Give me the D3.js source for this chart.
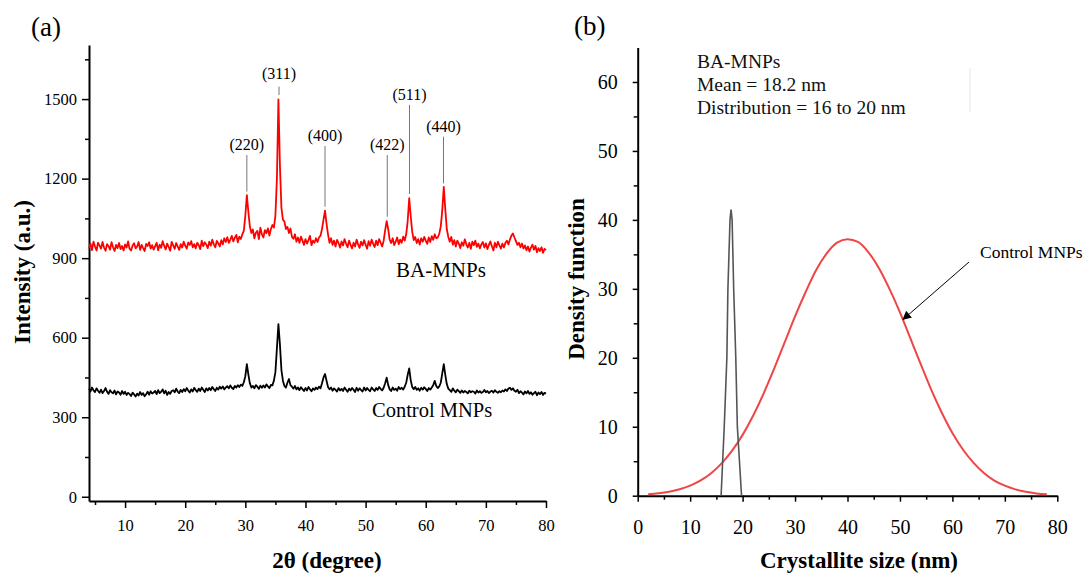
<!DOCTYPE html>
<html>
<head>
<meta charset="utf-8">
<script src="https://cdn.jsdelivr.net/npm/d3@7"></script>
<style>
  body { margin: 0; background: #fff; }
  svg text { font-family: "Liberation Serif", "Times New Roman", serif; }
</style>
</head>
<body>
<svg id="chart" width="1083" height="574"></svg>
<script>
//------ Données (a) : diffractogrammes XRD ------
var twoThetaStart = 4, twoThetaStep = 0.25;

// BA-MNPs, intensité tous les 0.25° de 4 à 80
var baMnps = [
  938, 955, 930, 962, 944, 929, 958, 947,
  936, 961, 940, 928, 953, 945, 932, 960,
  941, 927, 950, 938, 957, 934, 946, 929,
  952, 940, 963, 935, 929, 948, 956, 937,
  944, 961, 931, 950, 938, 927, 954, 946,
  960, 936, 949, 932, 945, 958, 930, 951,
  939, 964, 947, 933, 955, 942, 928, 961,
  948, 935, 957, 944, 931, 953, 940, 962,
  947, 936, 959, 950, 964, 941, 953, 937,
  958, 949, 934, 966, 945, 960, 951, 938,
  962, 947, 970, 952, 941, 965, 956, 944,
  968, 952, 975, 961, 979, 958, 970, 984,
  963, 977, 988, 960, 981, 972, 990, 1004,
  1060, 1138, 1075, 1020, 995, 1008, 975, 996,
  1003, 972, 1015, 990, 978, 1006, 994, 1012,
  985, 1010, 1025, 1015, 1060, 1200, 1499, 1250,
  1090, 1045, 1038, 1010, 1018, 995, 1012, 980,
  973, 990, 962, 978, 958, 981, 966, 950,
  972, 955, 968, 984, 949, 966, 958, 975,
  961, 978, 985, 1010, 1045, 1079, 1030, 990,
  958, 975, 950, 966, 944, 969, 957, 940,
  963, 948, 972, 955, 941, 966, 950, 937,
  958, 944, 970, 952, 939, 962, 948, 968,
  951, 936, 964, 947, 970, 955, 942, 966,
  949, 972, 958, 944, 966, 1005, 1040, 1010,
  970, 957, 975, 949, 962, 978, 953, 970,
  958, 981, 966, 990, 1040, 1126, 1060, 1000,
  968, 980, 957, 972, 951, 975, 962, 980,
  966, 954, 978, 961, 983, 969, 990, 975,
  978, 992, 1020, 1080, 1169, 1085, 1010, 980,
  962, 980, 951, 968, 944, 966, 955, 938,
  960, 947, 971, 952, 940, 958, 935, 962,
  949, 966, 943, 955, 937, 952, 961, 940,
  956, 934, 950, 963, 945, 929, 958, 941,
  962, 948, 936, 955, 940, 958, 966, 952,
  970, 985, 993, 978, 964, 950, 958, 941,
  955, 936, 948, 930, 944, 925, 940, 951,
  932, 946, 922, 938, 927, 941, 920, 935,
  930
];

// Control MNPs, même grille
var controlMnps = [
  408, 397, 412, 401, 395, 409, 400, 392,
  404, 391, 399, 410, 396, 388, 402, 394,
  390, 401, 386, 397, 393, 385, 399, 388,
  396, 384, 392, 387, 380, 393, 386, 378,
  389, 382, 395, 384, 391, 379, 387, 396,
  385, 398, 389, 393, 399, 387, 402, 391,
  396, 405, 390, 400, 384, 395, 388, 399,
  402, 394, 408, 397, 391, 403, 395, 406,
  398, 410, 401, 393, 405, 397, 411, 402,
  396, 408, 399, 412, 404, 395, 409, 401,
  410, 402, 414, 406, 399, 411, 404, 415,
  408, 416, 405, 412, 417, 409, 420, 411,
  406, 418, 412, 421, 414, 423, 418, 432,
  455, 500, 462, 428, 412, 418, 409, 421,
  415, 407, 419, 411, 420, 412, 424, 416,
  410, 422, 420, 438, 470, 560, 651, 575,
  478, 438, 418, 412, 430, 444, 421, 415,
  408, 418, 405, 412, 402, 413, 406, 399,
  410, 401, 414, 405, 398, 409, 403, 412,
  406, 415, 409, 428, 450, 463, 438, 414,
  405, 412, 400, 409, 403, 397, 410, 401,
  407, 399, 412, 404, 396, 408, 401, 410,
  404, 395, 411, 400, 409, 402, 397, 412,
  401, 410, 403, 398, 412, 405, 399, 410,
  403, 414, 407, 401, 411, 428, 449, 422,
  405, 399, 412, 403, 408, 400, 414, 406,
  411, 404, 415, 430, 460, 484, 440, 414,
  406, 414, 403, 409, 400, 411, 404, 413,
  407, 399, 410, 404, 412, 421, 437, 418,
  410, 416, 430, 465, 500, 460, 425, 408,
  402, 396, 409, 400, 394, 404, 398, 392,
  401, 393, 399, 395, 390, 400, 394, 398,
  396, 389, 401, 393, 398, 392, 395, 403,
  394, 399, 391, 397, 400, 393, 402, 396,
  392, 398, 394, 401, 397, 405, 399, 408,
  411, 403, 409, 400, 396, 404, 391, 398,
  393, 386, 397, 390, 399, 388, 394, 385,
  391, 396, 383, 393, 387, 395, 384, 392,
  389
];

// indexation des pics
var peakLabels = ["(220)", "(311)", "(400)", "(422)", "(511)", "(440)"];
var peakAngles = [30.25, 35.6, 43.25, 53.6, 57.3, 62.95];
var leaderTop = [1289, 1547, 1323, 1289, 1478, 1358];
var leaderBottom = [1151, 1515, 1094, 1056, 1142, 1182];

var xrdXTicks = [10, 20, 30, 40, 50, 60, 70, 80];
var xrdXMinor = [5, 15, 25, 35, 45, 55, 65, 75];
var xrdYTicks = [0, 300, 600, 900, 1200, 1500];
var xrdYMinor = [150, 450, 750, 1050, 1350, 1650];

//------ Données (b) : distribution de taille ------
var controlSize = [2, 4, 6, 8, 10, 12, 14, 16, 18, 20, 22, 24, 26, 28, 30, 32, 34, 36, 38, 40,
  42, 44, 46, 48, 50, 52, 54, 56, 58, 60, 62, 64, 66, 68, 70, 72, 74, 76, 78];
var controlDensity = [0.21, 0.35, 0.58, 0.94, 1.46, 2.22, 3.27, 4.69, 6.53, 8.82, 11.6, 14.8, 18.4,
  22.2, 26.0, 29.5, 32.7, 35.1, 36.7, 37.2, 36.8, 35.3, 33.0, 30.0, 26.6, 22.8, 19.0, 15.3, 12.0,
  9.1, 6.7, 4.8, 3.3, 2.2, 1.45, 0.92, 0.56, 0.33, 0.2];
var baSize = [15.9, 16.2, 16.5, 17.0, 17.2, 17.6, 17.8, 18.0, 18.3, 18.7, 19.0, 19.4, 19.8];
var baDensity = [0, 5, 10, 20, 30, 40, 41.5, 40, 30, 20, 10, 5, 0];

var sizeTicks = [0, 10, 20, 30, 40, 50, 60, 70, 80];
var sizeMinor = [5, 15, 25, 35, 45, 55, 65, 75];
var densityTicks = [0, 10, 20, 30, 40, 50, 60];
var densityMinor = [5, 15, 25, 35, 45, 55];

var infoLines = ["BA-MNPs", "Mean = 18.2 nm", "Distribution = 16 to 20 nm"];

//------ Rendre les graphiques ------
var svg = d3.select("#chart");
var serif = "Liberation Serif, Times New Roman, serif";

// style commun des axes
function styleAxis(g, size, width) {
  g.attr("font-size", size);
  g.select(".domain").attr("stroke", "#000").attr("stroke-width", width);
  g.selectAll(".tick line").attr("stroke", "#000").attr("stroke-width", 1.5);
  g.selectAll(".tick text").attr("fill", "#000").style("font-family", serif).style("font-size", size + "px");
}

// fleche
svg.append("defs").append("marker")
  .attr("id", "arrow")
  .attr("viewBox", "0 0 10 10")
  .attr("refX", 9).attr("refY", 5)
  .attr("markerWidth", 9).attr("markerHeight", 9)
  .attr("markerUnits", "userSpaceOnUse")
  .attr("orient", "auto")
  .append("path").attr("d", "M0,0L10,5L0,10z").attr("fill", "#000");

//-- panneau (a) --
var xA = d3.scaleLinear().domain([4, 80]).range([89, 546]);
var yA = d3.scaleLinear().domain([-16, 1704]).range([501, 45]);
var angles = baMnps.map((d, i) => twoThetaStart + i * twoThetaStep);
var fmt = d3.format("d");

var gA = svg.append("g");

gA.append("g").attr("transform", "translate(0,501)")
  .call(d3.axisBottom(xA).tickValues(xrdXTicks).tickFormat(fmt).tickSize(7).tickPadding(11).tickSizeOuter(0))
  .call(g => styleAxis(g, 16.5, 2));
gA.append("g").attr("transform", "translate(0,501)")
  .call(d3.axisBottom(xA).tickValues(xrdXMinor).tickSize(4).tickFormat(""))
  .call(g => { styleAxis(g, 16.5, 2); g.select(".domain").remove(); });

gA.append("g").attr("transform", "translate(89,0)")
  .call(d3.axisLeft(yA).tickValues(xrdYTicks).tickFormat(fmt).tickSize(7).tickPadding(5).tickSizeOuter(0))
  .call(g => styleAxis(g, 16.5, 2));
gA.append("g").attr("transform", "translate(89,0)")
  .call(d3.axisLeft(yA).tickValues(xrdYMinor).tickSize(4).tickFormat(""))
  .call(g => { styleAxis(g, 16.5, 2); g.select(".domain").remove(); });

var lineA = d3.line().x((d, i) => xA(angles[i])).y(d => yA(d));

gA.append("path").datum(controlMnps)
  .attr("fill", "none").attr("stroke", "#000").attr("stroke-width", 1.8)
  .attr("stroke-linejoin", "round").attr("d", lineA);
gA.append("path").datum(baMnps)
  .attr("fill", "none").attr("stroke", "#ff0000").attr("stroke-width", 1.8)
  .attr("stroke-linejoin", "round").attr("d", lineA);

// traits et étiquettes des pics
var peaks = gA.selectAll("g.peak").data(peakLabels).enter().append("g").attr("class", "peak");
peaks.append("line")
  .attr("x1", (d, i) => xA(peakAngles[i])).attr("x2", (d, i) => xA(peakAngles[i]))
  .attr("y1", (d, i) => yA(leaderTop[i])).attr("y2", (d, i) => yA(leaderBottom[i]))
  .attr("stroke", "#777").attr("stroke-width", 1);
peaks.append("text")
  .attr("x", (d, i) => xA(peakAngles[i]))
  .attr("y", (d, i) => yA(leaderTop[i]) - (i === 1 ? 8 : 5))
  .attr("text-anchor", "middle").attr("font-size", 16).attr("fill", "#000")
  .text(d => d);

gA.append("text").attr("x", 396).attr("y", 277).attr("font-size", 21).text("BA-MNPs");
gA.append("text").attr("x", 372).attr("y", 417).attr("font-size", 20.5).text("Control MNPs");

gA.append("text").attr("transform", "translate(30,272) rotate(-90)")
  .attr("text-anchor", "middle").attr("font-size", 23).attr("font-weight", "bold")
  .text("Intensity (a.u.)");
gA.append("text").attr("x", 327).attr("y", 568)
  .attr("text-anchor", "middle").attr("font-size", 23).attr("font-weight", "bold")
  .text("2θ (degree)");
gA.append("text").attr("x", 31).attr("y", 36).attr("font-size", 27).text("(a)");

//-- panneau (b) --
var xB = d3.scaleLinear().domain([0, 80]).range([637.7, 1057.3]);
var yB = d3.scaleLinear().domain([0, 65]).range([495.7, 47.5]);
var gB = svg.append("g");

gB.append("g").attr("transform", "translate(0,495.7)")
  .call(d3.axisBottom(xB).tickValues(sizeTicks).tickFormat(fmt).tickSize(6).tickPadding(18).tickSizeOuter(0))
  .call(g => styleAxis(g, 20, 2));
gB.append("g").attr("transform", "translate(0,495.7)")
  .call(d3.axisBottom(xB).tickValues(sizeMinor).tickSize(4).tickFormat(""))
  .call(g => { styleAxis(g, 20, 2); g.select(".domain").remove(); });

gB.append("g").attr("transform", "translate(637.7,0)")
  .call(d3.axisLeft(yB).tickValues(densityTicks).tickFormat(fmt).tickSize(5).tickPadding(15).tickSizeOuter(0))
  .call(g => styleAxis(g, 20, 2));
gB.append("g").attr("transform", "translate(637.7,0)")
  .call(d3.axisLeft(yB).tickValues(densityMinor).tickSize(4).tickFormat(""))
  .call(g => { styleAxis(g, 20, 2); g.select(".domain").remove(); });

gB.append("path").datum(controlDensity)
  .attr("fill", "none").attr("stroke", "#f04545").attr("stroke-width", 2)
  .attr("d", d3.line().curve(d3.curveMonotoneX).x((d, i) => xB(controlSize[i])).y(d => yB(d)));
gB.append("path").datum(baDensity)
  .attr("fill", "none").attr("stroke", "#555").attr("stroke-width", 1.6)
  .attr("d", d3.line().x((d, i) => xB(baSize[i])).y(d => yB(d)));

gB.selectAll("text.info").data(infoLines).enter().append("text")
  .attr("class", "info")
  .attr("x", 697).attr("y", (d, i) => 68 + i * 23)
  .attr("font-size", 19.5).attr("fill", "#111")
  .text(d => d);

// trait clair résiduel du cadre
gB.append("line").attr("x1", 970).attr("x2", 970).attr("y1", 68).attr("y2", 112)
  .attr("stroke", "#e6e6e6").attr("stroke-width", 1);

gB.append("text").attr("x", 980).attr("y", 258).attr("font-size", 17.5).text("Control MNPs");
gB.append("line").attr("x1", 969).attr("y1", 262).attr("x2", 903).attr("y2", 319.5)
  .attr("stroke", "#000").attr("stroke-width", 1).attr("marker-end", "url(#arrow)");

gB.append("text").attr("transform", "translate(584,279) rotate(-90)")
  .attr("text-anchor", "middle").attr("font-size", 23).attr("font-weight", "bold")
  .text("Density function");
gB.append("text").attr("x", 859).attr("y", 568)
  .attr("text-anchor", "middle").attr("font-size", 23).attr("font-weight", "bold")
  .text("Crystallite size (nm)");
gB.append("text").attr("x", 574).attr("y", 35).attr("font-size", 27).text("(b)");
</script>
</body>
</html>
